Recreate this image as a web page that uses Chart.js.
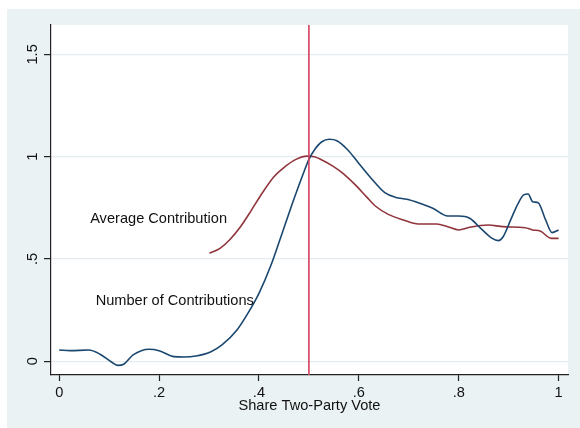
<!DOCTYPE html>
<html>
<head>
<meta charset="utf-8">
<script src="https://cdn.jsdelivr.net/npm/chart.js@4"></script>
<style>
    html, body { margin: 0; padding: 0; background: #ffffff; }
    #box { position: absolute; left: 7px; top: 9px; width: 573px; height: 419px; background: #eaf2f3; }
</style>
</head>
<body>
<div id="box"><canvas id="grafico" width="573" height="419"></canvas></div>
<script>
// Number of Contributions (blue)
const numeroX = [0, 0.022, 0.059, 0.081, 0.104, 0.117, 0.13, 0.148, 0.18, 0.2, 0.23, 0.25, 0.274, 0.304, 0.326, 0.356, 0.378, 0.4, 0.423, 0.444, 0.467, 0.489, 0.5, 0.511, 0.526, 0.541, 0.556, 0.578, 0.6, 0.622, 0.652, 0.674, 0.696, 0.719, 0.748, 0.778, 0.8, 0.822, 0.844, 0.867, 0.879, 0.889, 0.904, 0.919, 0.93, 0.939, 0.948, 0.959, 0.974, 0.987, 1];
const numeroY = [0.055, 0.052, 0.055, 0.036, -0.002, -0.02, -0.013, 0.031, 0.059, 0.052, 0.023, 0.021, 0.026, 0.047, 0.08, 0.153, 0.235, 0.332, 0.463, 0.609, 0.772, 0.919, 0.987, 1.033, 1.073, 1.085, 1.078, 1.033, 0.967, 0.902, 0.824, 0.801, 0.792, 0.775, 0.748, 0.71, 0.71, 0.699, 0.65, 0.601, 0.59, 0.609, 0.691, 0.772, 0.813, 0.818, 0.78, 0.775, 0.691, 0.629, 0.642];

// Average Contribution (red)
const mediaX = [0.301, 0.322, 0.341, 0.363, 0.385, 0.404, 0.43, 0.452, 0.474, 0.496, 0.511, 0.526, 0.548, 0.57, 0.593, 0.615, 0.633, 0.659, 0.689, 0.719, 0.756, 0.778, 0.8, 0.822, 0.859, 0.889, 0.933, 0.948, 0.963, 0.985, 1];
const mediaY = [0.528, 0.552, 0.593, 0.658, 0.739, 0.813, 0.902, 0.951, 0.987, 1.003, 1.0, 0.984, 0.954, 0.915, 0.862, 0.805, 0.759, 0.718, 0.691, 0.671, 0.671, 0.658, 0.642, 0.655, 0.666, 0.658, 0.653, 0.642, 0.637, 0.601, 0.601];

// vertical reference line at 50%
const sogliaX = [0.5, 0.5];
const sogliaY = [-0.07, 1.65];

const tickX = [0, 0.2, 0.4, 0.6, 0.8, 1];
const etichetteX = ["0", ".2", ".4", ".6", ".8", "1"];
const tickY = [0, 0.5, 1, 1.5];
const etichetteY = ["0", ".5", "1", "1.5"];

const note = [
    { testo: "Average Contribution", x: 0.062, y: 0.696 },
    { testo: "Number of Contributions", x: 0.073, y: 0.295 }
];

const FONT = "'Liberation Sans', Arial, sans-serif";

function punti(xs, ys) {
    return xs.map((x, i) => ({ x: x, y: ys[i] }));
}

const sfondoBianco = {
    id: "sfondoBianco",
    beforeDraw(chart) {
        const a = chart.chartArea;
        const ctx = chart.ctx;
        ctx.save();
        ctx.fillStyle = "#ffffff";
        ctx.fillRect(a.left, a.top, a.right - a.left, a.bottom - a.top);
        ctx.restore();
    }
};

const testiNote = {
    id: "testiNote",
    afterDatasetsDraw(chart) {
        const ctx = chart.ctx;
        ctx.save();
        ctx.font = "14.6px " + FONT;
        ctx.fillStyle = "#111111";
        ctx.textAlign = "left";
        ctx.textBaseline = "middle";
        note.forEach((n) => {
            ctx.fillText(n.testo, chart.scales.x.getPixelForValue(n.x), chart.scales.y.getPixelForValue(n.y));
        });
        ctx.restore();
    }
};

function generaGrafico() {
    const ctx = document.getElementById("grafico").getContext("2d");

    new Chart(ctx, {
        type: "line",
        data: {
            datasets: [
                {
                    label: "soglia",
                    data: punti(sogliaX, sogliaY),
                    borderColor: "#d6405e",
                    borderWidth: 1.6,
                    pointRadius: 0,
                    tension: 0
                },
                {
                    label: "Number of Contributions",
                    data: punti(numeroX, numeroY),
                    borderColor: "#1a476f",
                    borderWidth: 1.6,
                    pointRadius: 0,
                    cubicInterpolationMode: "monotone"
                },
                {
                    label: "Average Contribution",
                    data: punti(mediaX, mediaY),
                    borderColor: "#90353b",
                    borderWidth: 1.6,
                    pointRadius: 0,
                    cubicInterpolationMode: "monotone"
                }
            ]
        },
        options: {
            responsive: false,
            animation: false,
            parsing: false,
            layout: { padding: { left: 0, top: 16, right: 12, bottom: 13 } },
            plugins: {
                legend: { display: false },
                tooltip: { enabled: false }
            },
            scales: {
                x: {
                    type: "linear",
                    min: -0.0164,
                    max: 1.0188,
                    afterFit(scale) { scale.height = 40; },
                    afterBuildTicks(scale) { scale.ticks = tickX.map((v) => ({ value: v })); },
                    border: { display: true, color: "#222222", width: 1.2 },
                    grid: { drawOnChartArea: false, drawTicks: true, tickLength: 6, tickColor: "#222222", tickWidth: 1.2 },
                    ticks: {
                        autoSkip: false,
                        maxRotation: 0,
                        padding: 3,
                        color: "#111111",
                        font: { family: FONT, size: 14.6 },
                        callback: (v) => etichetteX[tickX.indexOf(v)]
                    },
                    title: {
                        display: true,
                        text: "Share Two-Party Vote",
                        color: "#111111",
                        padding: { top: 0, bottom: 0 },
                        font: { family: FONT, size: 14.6, lineHeight: 1.2 }
                    }
                },
                y: {
                    type: "linear",
                    min: -0.067,
                    max: 1.6437,
                    afterFit(scale) { scale.width = 44; },
                    afterBuildTicks(scale) { scale.ticks = tickY.map((v) => ({ value: v })); },
                    border: { display: true, color: "#222222", width: 1.2 },
                    grid: { color: "#e4ecef", lineWidth: 1.2, drawTicks: true, tickLength: 7, tickColor: "#222222", tickWidth: 1.2 },
                    ticks: {
                        autoSkip: false,
                        minRotation: 90,
                        maxRotation: 90,
                        crossAlign: "center",
                        padding: 1,
                        color: "#111111",
                        font: { family: FONT, size: 14.6 },
                        callback: (v) => etichetteY[tickY.indexOf(v)]
                    }
                }
            }
        },
        plugins: [sfondoBianco, testiNote]
    });
}

generaGrafico();
</script>
</body>
</html>
